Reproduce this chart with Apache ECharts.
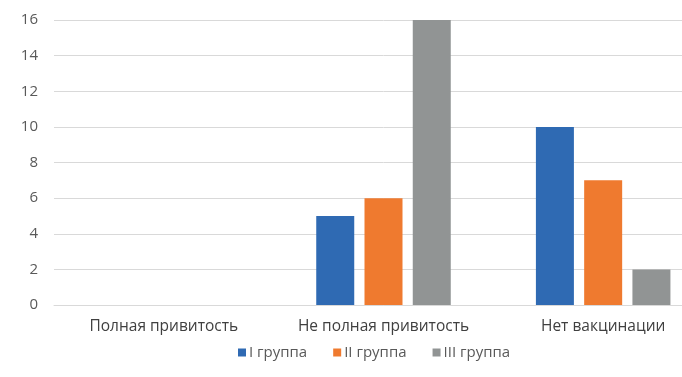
<!DOCTYPE html>
<html><head><meta charset="utf-8">
<script src="https://cdn.jsdelivr.net/npm/echarts@6/dist/echarts.min.js"></script>
<style>html,body{margin:0;padding:0;background:#fff;overflow:hidden}#c{width:714px;height:377px}</style>
</head><body><div id="c"></div>
<script>
const categories = ['Полная привитость', 'Не полная привитость', 'Нет вакцинации'];
const seriesNames = ['I группа', 'II группа', 'III группа'];
const group1 = [0, 5, 10];
const group2 = [0, 6, 7];
const group3 = [0, 16, 2];
const yTicks = [0, 2, 4, 6, 8, 10, 12, 14, 16];
const colors = ['#2F6AB3', '#EF7A2F', '#919494'];

const chart = echarts.init(document.getElementById('c'));
const font = 'Open Sans, Noto Sans, sans-serif';
chart.setOption({
  animation: false,
  color: colors,
  grid: { left: 54, top: 20, right: 1, bottom: 72, containLabel: false },
  legend: {
    data: seriesNames, bottom: 12, left: 233,
    itemWidth: 8, itemHeight: 8, itemGap: 26, icon: 'rect',
    textStyle: { fontFamily: font, fontSize: 15, color: '#595959', padding: [0, 0, 0, -2] }
  },
  xAxis: {
    type: 'category', data: categories,
    axisLine: { lineStyle: { color: '#d9d9d9', width: 1 } },
    axisTick: { show: false },
    axisLabel: { interval: 0, fontFamily: font, fontSize: 15.5, color: '#404040', margin: 14 }
  },
  yAxis: {
    type: 'value', min: yTicks[0], max: yTicks[yTicks.length - 1], interval: 2,
    axisLine: { show: false }, axisTick: { show: false },
    splitLine: { lineStyle: { color: '#d9d9d9', width: 1 } },
    axisLabel: { fontFamily: font, fontSize: 15, color: '#595959', margin: 16 }
  },
  series: [group1, group2, group3].map((d, i) => ({
    name: seriesNames[i], type: 'bar', data: d,
    barWidth: 38, barGap: '27%'
  }))
});
</script></body></html>
